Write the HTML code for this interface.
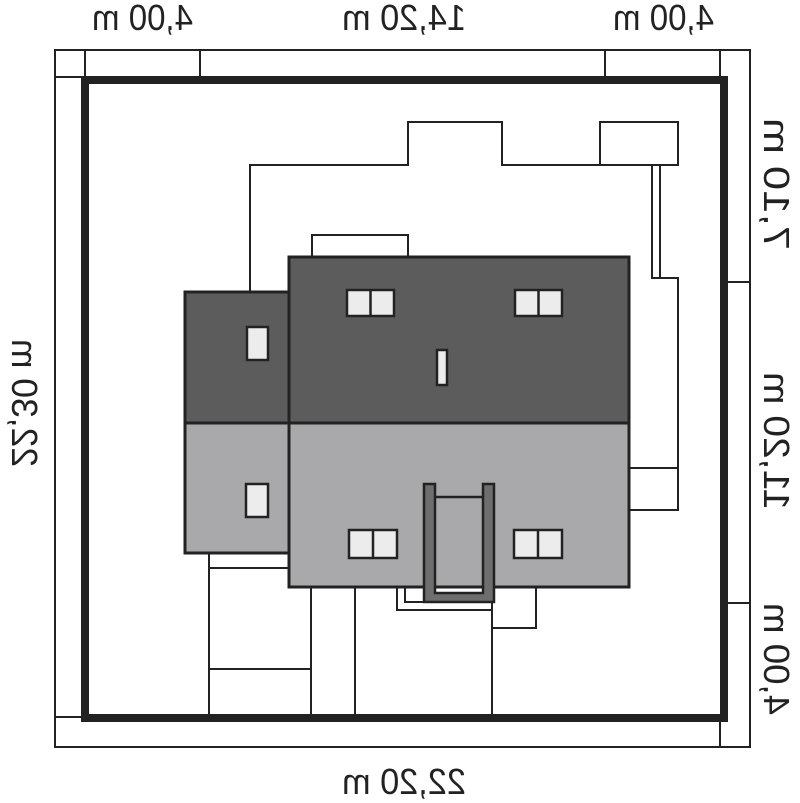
<!DOCTYPE html>
<html><head><style>html,body{margin:0;padding:0;background:#fff;}svg{display:block}</style></head>
<body>
<svg width="800" height="803" viewBox="0 0 800 803" xmlns="http://www.w3.org/2000/svg">
<rect width="800" height="803" fill="#fff"/>
<g fill="none" stroke="#222" stroke-width="2">
  <rect x="55" y="50" width="695" height="697"/>
  <rect x="85" y="77" width="640" height="640"/>
  <line x1="55" y1="77" x2="85" y2="77"/>
  <line x1="55" y1="717" x2="85" y2="717"/>
  <line x1="85" y1="50" x2="85" y2="77"/>
  <line x1="200" y1="50" x2="200" y2="77"/>
  <line x1="605" y1="50" x2="605" y2="77"/>
  <line x1="720" y1="50" x2="720" y2="77"/>
  <line x1="725" y1="282" x2="750" y2="282"/>
  <line x1="725" y1="603" x2="750" y2="603"/>
  <line x1="720" y1="717" x2="720" y2="747"/>
</g>
<rect x="85" y="80" width="639" height="638" fill="none" stroke="#222" stroke-width="8"/>
<g fill="none" stroke="#222" stroke-width="2">
  <polyline points="250,292 250,165 408,165 408,122 502,122 502,165 600,165"/>
  <rect x="600" y="122" width="78" height="43"/>
  <polyline points="652,165 652,278 678,278 678,510 629,510"/>
  <line x1="660" y1="165" x2="660" y2="278"/>
  <line x1="629" y1="468" x2="678" y2="468"/>
  <rect x="312" y="235" width="96" height="23"/>
  <line x1="209" y1="553" x2="209" y2="715"/>
  <line x1="209" y1="568" x2="289" y2="568"/>
  <line x1="209" y1="669" x2="311" y2="669"/>
  <line x1="311" y1="587" x2="311" y2="715"/>
  <line x1="355" y1="587" x2="355" y2="715"/>
  <line x1="492" y1="602" x2="492" y2="715"/>
  <polyline points="492,628 536,628 536,587"/>
  <polyline points="397,587 397,610 492,610"/>
  <polyline points="405,587 405,602 424,602"/>
</g>
<g stroke="#222" stroke-width="3">
  <rect x="289" y="257" width="340" height="166" fill="#5c5c5c"/>
  <rect x="185" y="292" width="104" height="131" fill="#5c5c5c"/>
  <rect x="185" y="423" width="104" height="130" fill="#a9a9ab"/>
  <rect x="289" y="423" width="340" height="164" fill="#a9a9ab"/>
</g>
<g stroke="#222" stroke-width="2.5" fill="#ececec">
  <rect x="347" y="290" width="47" height="26"/><line x1="370.5" y1="290" x2="370.5" y2="316"/>
  <rect x="515" y="290" width="47" height="26"/><line x1="538.5" y1="290" x2="538.5" y2="316"/>
  <rect x="247" y="327" width="21" height="33"/>
  <rect x="437" y="350" width="10" height="35"/>
  <rect x="246" y="484" width="22" height="33"/>
  <rect x="349" y="530" width="48" height="28"/><line x1="373" y1="530" x2="373" y2="558"/>
  <rect x="514" y="530" width="48" height="28"/><line x1="538" y1="530" x2="538" y2="558"/>
</g>
<path d="M424,484 H435 V593 H483 V484 H494 V602 H424 Z" fill="#6e6e6e" stroke="#222" stroke-width="2.5"/>
<line x1="435" y1="497" x2="483" y2="497" stroke="#222" stroke-width="2.5"/>
<g font-family="Liberation Sans, sans-serif" font-size="36" fill="#222">
  <text transform="translate(193,30) scale(-1,1)" textLength="101" lengthAdjust="spacingAndGlyphs">4,00 m</text>
  <text transform="translate(466,30) scale(-1,1)" textLength="124" lengthAdjust="spacingAndGlyphs">14,20 m</text>
  <text transform="translate(714,30) scale(-1,1)" textLength="101" lengthAdjust="spacingAndGlyphs">4,00 m</text>
  <text transform="translate(466,794) scale(-1,1)" textLength="124" lengthAdjust="spacingAndGlyphs">22,20 m</text>
  <text transform="translate(764,250) scale(-1,1) rotate(-90)" textLength="132" lengthAdjust="spacingAndGlyphs">7,10 m</text>
  <text transform="translate(764,510) scale(-1,1) rotate(-90)" textLength="138" lengthAdjust="spacingAndGlyphs">11,20 m</text>
  <text transform="translate(764,715) scale(-1,1) rotate(-90)" textLength="112" lengthAdjust="spacingAndGlyphs">4,00 m</text>
  <text transform="translate(12,467) scale(-1,1) rotate(-90)" textLength="128" lengthAdjust="spacingAndGlyphs">22,30 m</text>
</g>
</svg>
</body></html>
